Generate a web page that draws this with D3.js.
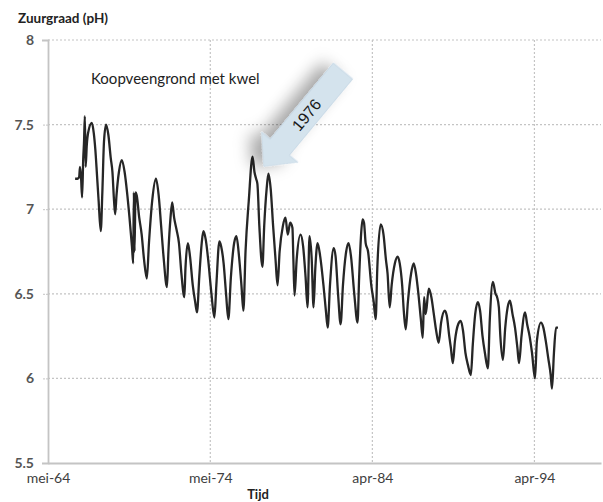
<!DOCTYPE html>
<html>
<head>
<meta charset="utf-8">
<script src="https://cdn.jsdelivr.net/npm/d3@7"></script>
<style>
  body { margin: 0; background: #fff; }
  text { font-family: Lato, "Open Sans", sans-serif; }
</style>
</head>
<body>
<div id="chart-area"></div>
<script>
// pH series, decimal years
var years = [
  1966.00, 1966.15, 1966.25, 1966.30, 1966.37, 1966.43, 1966.50, 1966.55, 1966.60, 1966.65, 1966.72, 1966.80,
  1967.03, 1967.15, 1967.25, 1967.35, 1967.45, 1967.58, 1967.68, 1967.78, 1967.91,
  1968.05, 1968.20, 1968.30, 1968.40, 1968.47, 1968.55, 1968.70, 1968.88,
  1969.05, 1969.20, 1969.35, 1969.50, 1969.58, 1969.62, 1969.66, 1969.72, 1969.80, 1969.95,
  1970.10, 1970.25, 1970.42, 1970.55, 1970.75, 1970.98,
  1971.15, 1971.30, 1971.45, 1971.66, 1971.75, 1971.88, 1971.98,
  1972.10, 1972.25, 1972.40, 1972.55, 1972.73, 1972.80, 1972.95,
  1973.08, 1973.25, 1973.40, 1973.51, 1973.65, 1973.80, 1973.90,
  1974.05, 1974.20, 1974.40, 1974.58, 1974.70, 1974.89,
  1975.00, 1975.15, 1975.30, 1975.44, 1975.60, 1975.80, 1975.94,
  1976.10, 1976.25, 1976.37, 1976.50, 1976.70, 1976.93,
  1977.05, 1977.15, 1977.23, 1977.35, 1977.54, 1977.65, 1977.80, 1977.91,
  1978.05, 1978.20, 1978.35, 1978.47, 1978.60, 1978.80, 1978.96,
  1979.10, 1979.25, 1979.39, 1979.45, 1979.52, 1979.65, 1979.89,
  1980.05, 1980.20, 1980.32, 1980.44, 1980.58, 1980.69, 1980.80, 1980.94,
  1981.10, 1981.30, 1981.45, 1981.56, 1981.70, 1981.93,
  1982.05, 1982.20, 1982.36, 1982.50, 1982.70, 1982.85,
  1983.00, 1983.20, 1983.40, 1983.50, 1983.62, 1983.71, 1983.80, 1983.90,
  1984.05, 1984.25, 1984.40, 1984.52, 1984.62, 1984.83,
  1985.00, 1985.15, 1985.25, 1985.38, 1985.50, 1985.70, 1985.87,
  1986.00, 1986.15, 1986.25, 1986.37, 1986.50, 1986.70, 1986.86,
  1987.00, 1987.15, 1987.30, 1987.42, 1987.50, 1987.60, 1987.79, 1987.95,
  1988.10, 1988.25, 1988.40, 1988.55, 1988.78, 1988.90,
  1989.05, 1989.15, 1989.27, 1989.40, 1989.60, 1989.76, 1989.90,
  1990.05, 1990.20, 1990.38, 1990.50, 1990.65, 1990.81, 1990.95,
  1991.10, 1991.25, 1991.43, 1991.55, 1991.74, 1991.90,
  1992.00, 1992.11, 1992.20, 1992.36, 1992.50, 1992.65, 1992.79, 1992.95,
  1993.10, 1993.25, 1993.35, 1993.50, 1993.72, 1993.85,
  1994.00, 1994.15, 1994.33, 1994.45, 1994.70, 1994.85,
  1995.00, 1995.15, 1995.30, 1995.38, 1995.50, 1995.63, 1995.75
];
var ph = [
  7.18, 7.18, 7.19, 7.25, 7.18, 7.07, 7.30, 7.40, 7.55, 7.25, 7.38, 7.45,
  7.51, 7.45, 7.35, 7.20, 7.05, 6.87, 7.10, 7.40, 7.50,
  7.44, 7.30, 7.22, 7.05, 6.97, 7.08, 7.22, 7.29,
  7.22, 7.10, 6.95, 6.78, 6.68, 7.10, 6.75, 7.10, 7.08, 6.95,
  6.85, 6.70, 6.59, 6.80, 7.05, 7.18,
  7.08, 6.90, 6.72, 6.54, 6.75, 6.95, 7.04,
  6.95, 6.88, 6.80, 6.62, 6.48, 6.65, 6.80,
  6.72, 6.55, 6.45, 6.39, 6.60, 6.80, 6.87,
  6.82, 6.70, 6.50, 6.36, 6.55, 6.81,
  6.78, 6.68, 6.50, 6.35, 6.60, 6.80, 6.84,
  6.72, 6.55, 6.40, 6.75, 7.05, 7.31,
  7.22, 7.18, 7.15, 6.90, 6.66, 6.90, 7.12, 7.21,
  7.12, 6.90, 6.70, 6.55, 6.75, 6.90, 6.95,
  6.85, 6.92, 6.89, 6.70, 6.49, 6.70, 6.85,
  6.78, 6.60, 6.42, 6.84, 6.70, 6.42, 6.65, 6.80,
  6.72, 6.55, 6.40, 6.30, 6.55, 6.77,
  6.72, 6.50, 6.32, 6.55, 6.75, 6.80,
  6.72, 6.50, 6.33, 6.60, 6.85, 6.94, 6.92, 6.80,
  6.75, 6.55, 6.45, 6.35, 6.65, 6.91,
  6.85, 6.70, 6.62, 6.42, 6.55, 6.68, 6.72,
  6.68, 6.55, 6.40, 6.29, 6.45, 6.62, 6.68,
  6.62, 6.50, 6.35, 6.24, 6.48, 6.38, 6.53, 6.48,
  6.38, 6.28, 6.21, 6.33, 6.40, 6.37,
  6.25, 6.18, 6.09, 6.22, 6.32, 6.34, 6.28,
  6.15, 6.08, 6.02, 6.20, 6.38, 6.45, 6.40,
  6.25, 6.15, 6.06, 6.35, 6.57, 6.50,
  6.48, 6.42, 6.25, 6.11, 6.30, 6.42, 6.46, 6.38,
  6.30, 6.18, 6.09, 6.25, 6.39, 6.32,
  6.25, 6.15, 6.00, 6.22, 6.33, 6.30,
  6.22, 6.12, 6.02, 5.94, 6.15, 6.30, 6.30
];
var yTicks = [5.5, 6, 6.5, 7, 7.5, 8];
var xTickDates = ["1964-05-01", "1974-05-01", "1984-04-25", "1994-04-20"];
var xTickLabels = ["mei-64", "mei-74", "apr-84", "apr-94"];

var width = 603, height = 502;
var plot = { left: 48, right: 601, top: 40, bottom: 463 };

function toDate(y) {
  var yr = Math.floor(y);
  return new Date(yr, 0, 1 + Math.round((y - yr) * 365.25));
}
var parse = d3.timeParse("%Y-%m-%d");

var data = years.map((y, i) => ({ date: toDate(y), value: ph[i] }));

var svg = d3.select("#chart-area").append("svg")
  .attr("width", width)
  .attr("height", height);

var defs = svg.append("defs");
var shadow = defs.append("filter").attr("id", "shadow")
  .attr("x", "-50%").attr("y", "-50%").attr("width", "200%").attr("height", "200%");
shadow.append("feDropShadow")
  .attr("dx", 7).attr("dy", 9).attr("stdDeviation", 8)
  .attr("flood-color", "#000").attr("flood-opacity", 0.35);

var x = d3.scaleTime()
  .domain([parse("1964-05-01"), toDate(1998.4)])
  .range([plot.left, plot.right]);
var y = d3.scaleLinear()
  .domain([5.5, 8])
  .range([plot.bottom, plot.top]);

// grid
svg.append("g").selectAll("line").data(yTicks.filter(d => d > 5.5)).enter().append("line")
  .attr("x1", plot.left).attr("x2", plot.right)
  .attr("y1", d => y(d)).attr("y2", d => y(d))
  .attr("stroke", "#c4c4c4").attr("stroke-width", 1.2).attr("stroke-dasharray", "2,2");
svg.append("g").selectAll("line").data(xTickDates.slice(1)).enter().append("line")
  .attr("x1", d => x(parse(d))).attr("x2", d => x(parse(d)))
  .attr("y1", plot.top).attr("y2", plot.bottom)
  .attr("stroke", "#c4c4c4").attr("stroke-width", 1.2).attr("stroke-dasharray", "2,2");

// axes
var leftAxis = d3.axisLeft(y).tickValues(yTicks).tickSize(6).tickPadding(8)
  .tickFormat(d => d3.format("")(d));
var yAxisGroup = svg.append("g")
  .attr("transform", `translate(${plot.left}, 0)`)
  .call(leftAxis);
var bottomAxis = d3.axisBottom(x).tickValues(xTickDates.map(parse)).tickSize(0).tickPadding(10)
  .tickFormat((d, i) => xTickLabels[i]);
var xAxisGroup = svg.append("g")
  .attr("transform", `translate(0, ${plot.bottom})`)
  .call(bottomAxis);
[yAxisGroup, xAxisGroup].forEach(g => {
  g.select(".domain").attr("stroke", "#c4c4c4").attr("stroke-width", 1.8);
  g.selectAll(".tick line").attr("stroke", "#c4c4c4").attr("stroke-dasharray", "2,1");
  g.selectAll(".tick text").attr("fill", "#404040").attr("font-size", "14px")
    .style("font-family", "Lato, sans-serif");
});
yAxisGroup.selectAll(".tick text").attr("font-weight", "bold").attr("fill", "#555");

// line
var line = d3.line().curve(d3.curveMonotoneX).x(d => x(d.date)).y(d => y(d.value));
svg.append("path").datum(data)
  .attr("d", line)
  .attr("fill", "none")
  .attr("stroke", "#262626")
  .attr("stroke-width", 2.3)
  .attr("stroke-linejoin", "round");

// labels
svg.append("text").attr("x", 18).attr("y", 23)
  .attr("font-size", "13.5px").attr("font-weight", "bold").attr("fill", "#222")
  .text("Zuurgraad (pH)");
svg.append("text").attr("x", 91).attr("y", 84)
  .attr("font-size", "15px").attr("fill", "#222")
  .text("Koopveengrond met kwel");
svg.append("text").attr("x", 258).attr("y", 499)
  .attr("text-anchor", "middle")
  .attr("font-size", "13px").attr("font-weight", "bold").attr("fill", "#222")
  .text("Tijd");

// 1976 arrow
var arrow = svg.append("g")
  .attr("transform", "translate(343, 71) rotate(129.7)");
arrow.append("path")
  .attr("d", "M0,-12.5 L99,-12.5 L99,-23.5 L124,0 L99,23.5 L99,12.5 L0,12.5 Z")
  .attr("fill", "#d4e3ed")
  .attr("stroke", "#c5d7e4")
  .attr("stroke-width", 0.8)
  .attr("filter", "url(#shadow)");
arrow.append("text")
  .attr("transform", "translate(57, 0) rotate(180)")
  .attr("text-anchor", "middle")
  .attr("dy", "0.35em")
  .attr("font-size", "16px").attr("fill", "#1a1a1a")
  .style("font-family", "'Liberation Sans', Arial, sans-serif")
  .text("1976");
</script>
</body>
</html>
